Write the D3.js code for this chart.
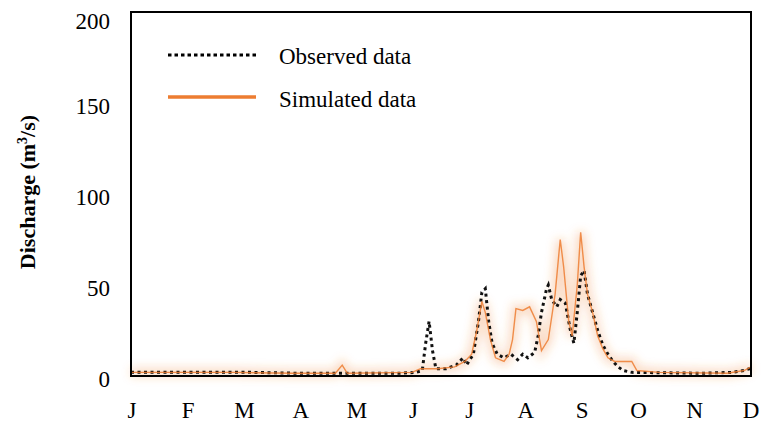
<!DOCTYPE html>
<html>
<head>
<meta charset="utf-8">
<script src="https://cdn.jsdelivr.net/npm/d3@7"></script>
<style>
  html, body { margin: 0; padding: 0; background: #fff; }
  svg { display: block; font-family: "Liberation Serif", "Times New Roman", serif; }
</style>
</head>
<body>
<svg id="chart" width="762" height="422"></svg>
<script>
// ── Data ───────────────────────────────────────────────────────────────────
const months = ["J", "F", "M", "A", "M", "J", "J", "A", "S", "O", "N", "D"];
const yTicks = [0, 50, 100, 150, 200];

// observed discharge, day of year -> m3/s
const obsDays = [0, 41, 70, 99, 158, 167, 171, 173, 175, 177, 179, 185, 191, 195, 197, 201, 204, 206,
  208, 210, 212, 215, 219, 223, 227, 230, 233, 237, 239, 241, 244, 245, 247, 250, 252, 255, 258,
  260, 262, 264, 266, 268, 271, 274, 277, 280, 283, 286, 289, 294, 335, 353, 360, 363, 364];
const obsVals = [2, 2, 2, 1.5, 1.5, 2, 3, 18, 30, 14, 4, 4, 6, 10, 6, 12, 30, 46,
  48, 30, 18, 12, 10, 12, 9, 12, 10, 13, 22, 35, 48, 50, 42, 38, 42, 40, 25,
  18, 35, 55, 58, 45, 35, 25, 17, 12, 8, 5, 3, 2, 1.5, 2, 3, 4, 4];

// simulated discharge
const simDays = [0, 60, 95, 120, 124, 127, 165, 170, 180, 190, 196, 200, 203, 206, 208, 211, 214,
  219, 222, 224, 226, 230, 234, 238, 241, 245, 249, 252, 254, 257, 259, 262, 264, 266, 268, 271,
  274, 277, 280, 284, 294, 297, 310, 350, 360, 364];
const simVals = [2, 2, 1.5, 1.5, 6, 1.5, 2, 4, 4, 5, 8, 12, 25, 41, 35, 20, 10,
  8, 12, 20, 37, 36, 38, 30, 14, 20, 45, 75, 60, 30, 22, 50, 79, 60, 45, 35,
  22, 15, 10, 8, 8, 3, 2, 1.5, 3, 5];

const legendItems = ["Observed data", "Simulated data"];

// ── Layout ─────────────────────────────────────────────────────────────────
const M = { left: 131, right: 751, top: 12, bottom: 376 };
const ORANGE = "#ed7d31";
const FS = 23;

const svg = d3.select("#chart");

const x = d3.scaleLinear().domain([0, 364]).range([M.left, M.right]);
const y = d3.scaleLinear().domain([0, 200]).range([M.bottom, M.top]);
const xm = d3.scalePoint().domain(d3.range(months.length)).range([132, 751]);

// glow for the simulated line
const defs = svg.append("defs");
const f = defs.append("filter").attr("id", "glow")
  .attr("x", "-20%").attr("y", "-20%").attr("width", "140%").attr("height", "140%");
f.append("feGaussianBlur").attr("stdDeviation", 5);

const line = d3.line().x((d) => x(d[0])).y((d) => y(d[1]));
const obs = obsDays.map((d, i) => [d, obsVals[i]]);
const sim = simDays.map((d, i) => [d, simVals[i]]);

svg.append("path").datum(sim).attr("d", line)
  .attr("fill", "none").attr("stroke", ORANGE).attr("stroke-width", 8)
  .attr("stroke-opacity", 0.3).attr("filter", "url(#glow)");

svg.append("path").datum(obs).attr("d", line)
  .attr("fill", "none").attr("stroke", "#111").attr("stroke-width", 3)
  .attr("stroke-dasharray", "3,3.5");

svg.append("path").datum(sim).attr("d", line)
  .attr("fill", "none").attr("stroke", ORANGE).attr("stroke-width", 1.4)
  .attr("stroke-opacity", 0.85);

// frame
svg.append("rect")
  .attr("x", M.left).attr("y", M.top)
  .attr("width", M.right - M.left).attr("height", M.bottom - M.top)
  .attr("fill", "none").attr("stroke", "#000").attr("stroke-width", 2);

// y axis labels
const yAx = svg.append("g").attr("transform", `translate(${M.left},0)`)
  .call(d3.axisLeft(y).tickValues(yTicks).tickSize(0).tickPadding(21));
yAx.select(".domain").remove();
yAx.selectAll("text")
  .attr("font-family", "Liberation Serif, serif").attr("font-size", FS).attr("fill", "#000")
  .attr("transform", (d) => `translate(0,${d === 200 ? 9 : 3})`);

// month labels
svg.append("g").selectAll("text").data(months).join("text")
  .attr("x", (d, i) => xm(i)).attr("y", 418)
  .attr("text-anchor", "middle").attr("font-size", FS).text((d) => d);

// y title
const yt = svg.append("text")
  .attr("transform", "translate(35,192) rotate(-90)")
  .attr("text-anchor", "middle").attr("font-size", 22).attr("font-weight", "bold");
yt.append("tspan").text("Discharge (m");
yt.append("tspan").attr("font-size", 14).attr("dy", -8).text("3");
yt.append("tspan").attr("dy", 8).text("/s)");

// legend
const leg = svg.append("g");
leg.append("line").attr("x1", 168).attr("x2", 256).attr("y1", 55).attr("y2", 55)
  .attr("stroke", "#000").attr("stroke-width", 3).attr("stroke-dasharray", "3.5,3");
leg.append("line").attr("x1", 168).attr("x2", 256).attr("y1", 97).attr("y2", 97)
  .attr("stroke", ORANGE).attr("stroke-width", 3.5);
leg.selectAll("text").data(legendItems).join("text")
  .attr("x", 279).attr("y", (d, i) => 64 + i * 43)
  .attr("font-size", FS).text((d) => d);
</script>
</body>
</html>
